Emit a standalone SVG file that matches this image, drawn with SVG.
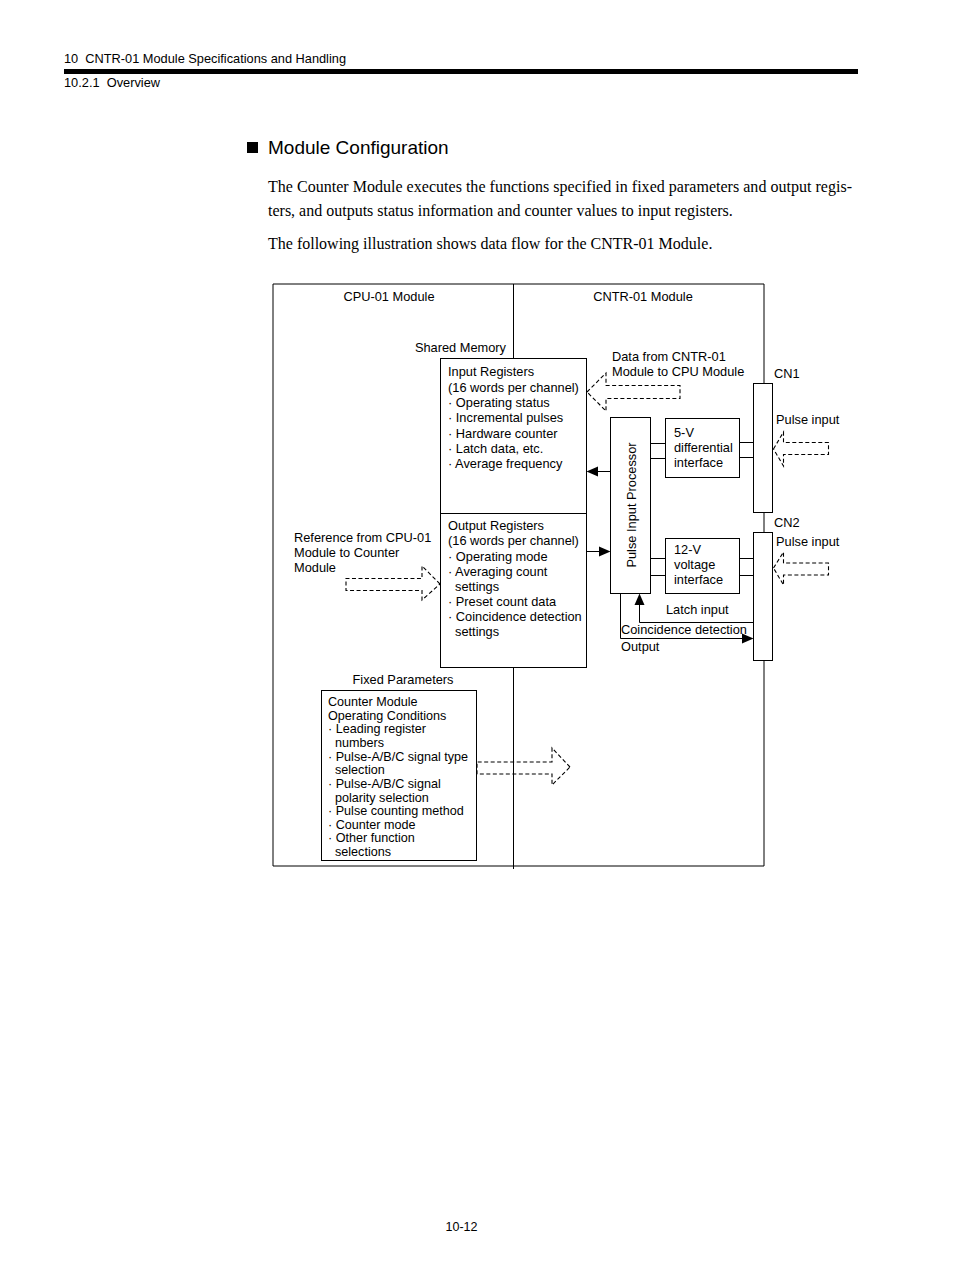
<svg xmlns="http://www.w3.org/2000/svg" width="954" height="1274" viewBox="0 0 954 1274">
<style>
text{font-family:"Liberation Sans",Arial,sans-serif;fill:#000}
.pre{white-space:pre}
.lbl{font-size:12.8px}
.fp{font-size:12.6px}
.serif{font-family:"Liberation Serif","Times New Roman",serif;font-size:16px}
.ln{stroke:#000;stroke-width:1;fill:none}
.box{stroke:#000;stroke-width:1;fill:#fff}
.dash{stroke:#000;stroke-width:1.1;fill:none;stroke-dasharray:4 2.5}
.ah{fill:#000;stroke:none}
</style>
<rect width="954" height="1274" fill="#fff"/>
<g id="page-header">
<text class="pre" xml:space="preserve" x="64" y="63" font-size="13" textLength="282" lengthAdjust="spacingAndGlyphs">10  CNTR-01 Module Specifications and Handling</text>
<rect x="64" y="69" width="794" height="5" fill="#000"/>
<text class="pre" xml:space="preserve" x="64" y="87" font-size="13" textLength="96" lengthAdjust="spacingAndGlyphs">10.2.1  Overview</text>
</g>
<g id="heading">
<rect x="247" y="142" width="11" height="11" fill="#000"/>
<text x="268" y="154" font-size="19">Module Configuration</text>
<text class="serif" x="268" y="192" textLength="584" lengthAdjust="spacing">The Counter Module executes the functions specified in fixed parameters and output regis-</text>
<text class="serif" x="268" y="216">ters, and outputs status information and counter values to input registers.</text>
<text class="serif" x="268" y="249">The following illustration shows data flow for the CNTR-01 Module.</text>
</g>
<g id="frame">
<path class="ln" d="M764,383 V284 H273 V866 H764 V660 M764,512 V532"/>
<path class="ln" d="M513.5,284 V358 M513.5,667 V869"/>
<text class="lbl" x="389" y="301" text-anchor="middle">CPU-01 Module</text>
<text class="lbl" x="643" y="301" text-anchor="middle">CNTR-01 Module</text>
</g>
<g id="shared-memory">
<text class="lbl" x="506" y="352" text-anchor="end">Shared Memory</text>
<rect class="box" x="440.5" y="358.5" width="146" height="309"/>
<line class="ln" x1="440.5" y1="513.5" x2="586.5" y2="513.5"/>
</g>
<g id="input-registers">
<text class="lbl" x="448" y="376">Input Registers</text>
<text class="lbl" x="448" y="391.5">(16 words per channel)</text>
<text class="lbl" x="448" y="407">· Operating status</text>
<text class="lbl" x="448" y="422">· Incremental pulses</text>
<text class="lbl" x="448" y="437.5">· Hardware counter</text>
<text class="lbl" x="448" y="453">· Latch data, etc.</text>
<text class="lbl" x="448" y="468">· Average frequency</text>
</g>
<g id="output-registers">
<text class="lbl" x="448" y="530">Output Registers</text>
<text class="lbl" x="448" y="545">(16 words per channel)</text>
<text class="lbl" x="448" y="560.5">· Operating mode</text>
<text class="lbl" x="448" y="575.5">· Averaging count</text>
<text class="lbl" x="455" y="591">settings</text>
<text class="lbl" x="448" y="606">· Preset count data</text>
<text class="lbl" x="448" y="621">· Coincidence detection</text>
<text class="lbl" x="455" y="636">settings</text>
</g>
<g id="pulse-input-processor">
<rect class="box" x="610.5" y="417.5" width="40" height="176"/>
<text class="lbl" transform="translate(636,505) rotate(-90)" text-anchor="middle">Pulse Input Processor</text>
</g>
<g id="interface-5v">
<rect class="box" x="665.5" y="418.5" width="74" height="59"/>
<text class="lbl" x="674" y="437">5-V</text>
<text class="lbl" x="674" y="452">differential</text>
<text class="lbl" x="674" y="467">interface</text>
</g>
<g id="interface-12v">
<rect class="box" x="665.5" y="538.5" width="74" height="55"/>
<text class="lbl" x="674" y="553.5">12-V</text>
<text class="lbl" x="674" y="569">voltage</text>
<text class="lbl" x="674" y="584">interface</text>
</g>
<g id="cn1">
<rect class="box" x="753.5" y="383.5" width="19" height="129"/>
<text class="lbl" x="774" y="378">CN1</text>
<text class="lbl" x="776" y="423.5">Pulse input</text>
</g>
<g id="cn2">
<rect class="box" x="753.5" y="532.5" width="19" height="128"/>
<text class="lbl" x="774" y="526.5">CN2</text>
<text class="lbl" x="776" y="546">Pulse input</text>
</g>
<g id="fixed-parameters">
<text class="lbl" x="403" y="684" text-anchor="middle">Fixed Parameters</text>
<rect class="box" x="321.5" y="690.5" width="155" height="170"/>
<text class="fp" x="328" y="706">Counter Module</text>
<text class="fp" x="328" y="720">Operating Conditions</text>
<text class="fp" x="328" y="733">· Leading register</text>
<text class="fp" x="335" y="747">numbers</text>
<text class="fp" x="328" y="761">· Pulse-A/B/C signal type</text>
<text class="fp" x="335" y="774">selection</text>
<text class="fp" x="328" y="788">· Pulse-A/B/C signal</text>
<text class="fp" x="335" y="802">polarity selection</text>
<text class="fp" x="328" y="815">· Pulse counting method</text>
<text class="fp" x="328" y="829">· Counter mode</text>
<text class="fp" x="328" y="842">· Other function</text>
<text class="fp" x="335" y="856">selections</text>
</g>
<g id="labels">
<text class="lbl" x="612" y="361">Data from CNTR-01</text>
<text class="lbl" x="612" y="376">Module to CPU Module</text>
<text class="lbl" x="294" y="542">Reference from CPU-01</text>
<text class="lbl" x="294" y="557">Module to Counter</text>
<text class="lbl" x="294" y="572">Module</text>
<text class="lbl" x="666" y="614">Latch input</text>
<text class="lbl" x="621" y="634">Coincidence detection</text>
<text class="lbl" x="621" y="651">Output</text>
</g>
<g id="connectors">
<path class="ln" d="M650,443.5 H666 M650,458.5 H666 M739,442.5 H754 M739,457.5 H754"/>
<path class="ln" d="M650,558.5 H666 M650,575.5 H666 M739,558.5 H754 M739,575.5 H754"/>
<path class="ln" d="M610,471.5 H597"/>
<polygon class="ah" points="586.5,471.5 598,466.5 598,476.5"/>
<path class="ln" d="M586,551.5 H599"/>
<polygon class="ah" points="610.5,551.5 599,546.5 599,556.5"/>
<path class="ln" d="M753,622.5 H639.5 V605"/>
<polygon class="ah" points="639.5,593.5 634.5,605 644.5,605"/>
<path class="ln" d="M620.5,593 V638.5 H742"/>
<polygon class="ah" points="753.5,638.5 742,633.5 742,643.5"/>
<polygon class="dash" points="587,392 606,373 606,385.5 680,385.5 680,398.5 606,398.5 606,411"/>
<polygon class="dash" points="773.5,449 783.5,432 783.5,442.5 828.5,442.5 828.5,454.5 783.5,454.5 783.5,466"/>
<polygon class="dash" points="773.5,568 783.5,552 783.5,563 828.5,563 828.5,575 783.5,575 783.5,585"/>
<polygon class="dash" points="440,584 422,566 422,578.5 346,578.5 346,590.5 422,590.5 422,600"/>
<polygon class="dash" points="570,767 552,748 552,762 477,762 477,774 552,774 552,785"/>
</g>
<g id="page-footer">
<text x="461.5" y="1231" font-size="12.5" text-anchor="middle">10-12</text>
</g>
</svg>
